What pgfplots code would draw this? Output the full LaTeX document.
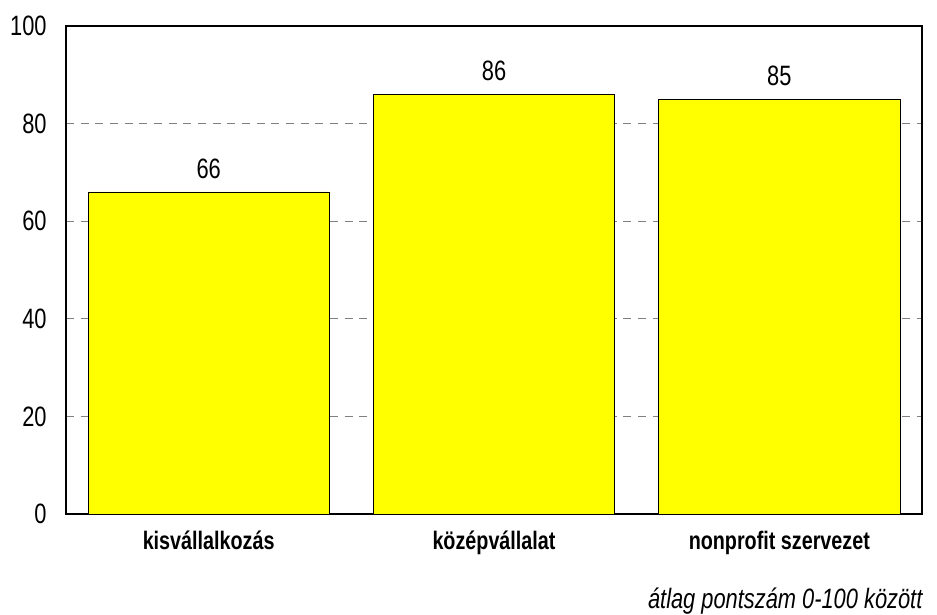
\documentclass[border=0pt]{standalone}
\usepackage{pgfplots}
\pgfplotsset{compat=1.18}
\usepackage{fontspec}
\setmainfont{Liberation Sans}
\newfontfamily\nar[FakeStretch=0.78]{Liberation Sans}
\begin{document}
\begin{tikzpicture}
\begin{axis}[
  name=ax,
  scale only axis,
  width=642pt, height=366pt,
  xmin=-0.5, xmax=2.5, ymin=0, ymax=100,
  xtick={0,1,2},
  xticklabels={kisvállalkozás,középvállalat,nonprofit szervezet},
  ytick={0,20,40,60,80,100},
  major tick length=0pt,
  ymajorgrids,
  grid style={dashed, gray, line width=0.6pt, dash pattern=on 6pt off 5pt},
  axis line style={black, line width=0.8pt},
  /pgf/number format/assume math mode=true,
  yticklabel style={font=\nar\fontsize{21}{23}\selectfont, xshift=-11pt},
  xticklabel style={font=\nar\fontsize{19}{21}\selectfont\bfseries, yshift=-9.5pt},
  nodes near coords,
  nodes near coords style={font=\nar\fontsize{21}{23}\selectfont, yshift=6.5pt},
]
\addplot[ybar, bar width=0.845, fill={rgb,255:red,255;green,255;blue,0}, draw=black, line width=0.6pt]
  coordinates {(0,66) (1,86) (2,85)};
\end{axis}
\path[use as bounding box] ([xshift=-49.5pt,yshift=-75pt]ax.south west) rectangle ([xshift=11.25pt,yshift=19.5pt]ax.north east);
\node[anchor=east, font=\nar\fontsize{21}{23}\selectfont\itshape, inner sep=0pt] at ([xshift=0.5pt,yshift=-65pt]ax.south east) {átlag pontszám 0-100 között};
\end{tikzpicture}
\end{document}
